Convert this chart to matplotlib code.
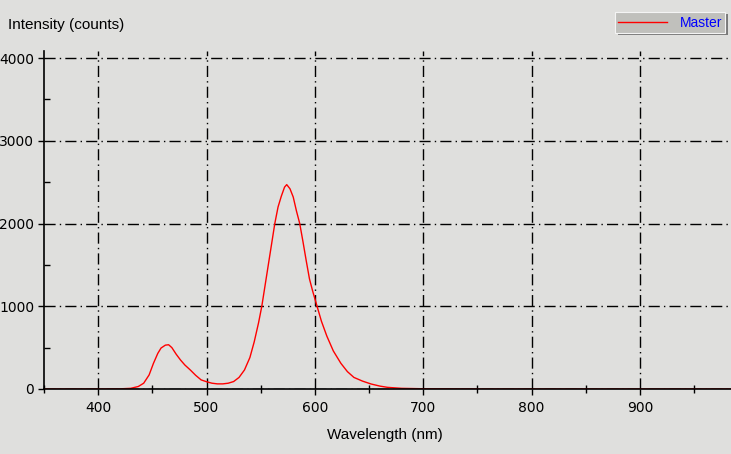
import matplotlib.pyplot as plt
from matplotlib.patches import Rectangle
from matplotlib.lines import Line2D
from matplotlib.ticker import MultipleLocator

plt.rcParams['font.family'] = ['Liberation Sans', 'DejaVu Sans']

# spectrum (nm, counts)
wavelength = [350, 400, 420, 430, 437, 442, 447, 451, 455, 458, 462, 465, 468, 472,
              476, 480, 485, 490, 495, 500, 505, 510, 515, 520, 525, 530, 535, 540,
              544, 548, 551, 554, 557, 560, 563, 566, 569, 572, 574, 577, 580, 583,
              586, 589, 592, 595, 598, 602, 606, 611, 617, 624, 630, 636, 644, 652,
              660, 667, 680, 700, 750, 985]
intensity = [0, 0, 2, 8, 30, 70, 170, 310, 430, 495, 530, 535, 500, 420,
             350, 290, 230, 165, 110, 88, 70, 62, 62, 70, 90, 140, 230, 380,
             570, 800, 1000, 1250, 1500, 1750, 2000, 2200, 2330, 2440, 2470, 2420, 2320, 2150,
             2000, 1780, 1550, 1330, 1180, 1000, 820, 640, 460, 310, 210, 140, 95, 60,
             35, 20, 8, 3, 0, 0]
series_name = 'Master'
x_ticks = [400, 500, 600, 700, 800, 900]
y_ticks = [0, 1000, 2000, 3000, 4000]

bg = '#dfdfdd'
fig = plt.figure(figsize=(7.31, 4.54), dpi=100, facecolor=bg)
ax = fig.add_axes([44 / 731, 1 - 389 / 454, 1 - 44 / 731, (389 - 51) / 454])
ax.set_facecolor(bg)

ax.plot(wavelength, intensity, color='red', linewidth=1)

ax.set_xlim(350, 984)
ax.set_ylim(0, 4085)
ax.set_xticks(x_ticks)
ax.set_yticks(y_ticks)
ax.xaxis.set_minor_locator(MultipleLocator(50))
ax.yaxis.set_minor_locator(MultipleLocator(500))

for s in ['top', 'right']:
    ax.spines[s].set_visible(False)
for s in ['left', 'bottom']:
    ax.spines[s].set_linewidth(1.2)
    ax.spines[s].set_color('black')

ax.tick_params(axis='both', which='major', direction='out', length=4, width=1,
               labelsize=10, pad=3, colors='black')
ax.tick_params(axis='x', which='major', pad=5)
ax.tick_params(axis='x', which='minor', direction='inout', length=6, width=1)
ax.tick_params(axis='y', which='minor', direction='in', length=4, width=1)
for lbl in ax.get_xticklabels() + ax.get_yticklabels():
    lbl.set_family('DejaVu Sans')

ax.grid(True, which='major', color='black', linestyle=(0, (8, 3, 1, 3)), linewidth=1)
ax.set_axisbelow(True)

fig.text(8 / 731, 1 - 25 / 454, 'Intensity (counts)', fontsize=11, va='center', ha='left')
fig.text(385 / 731, 1 - 435 / 454, 'Wavelength (nm)', fontsize=11, va='center', ha='center')

# legend box
W, H = 731, 454
fig.add_artist(Rectangle((618 / W, 1 - 35 / H), 110 / W, 21 / H, transform=fig.transFigure,
                         facecolor='#7a7a7a', edgecolor='none'))
fig.add_artist(Rectangle((615 / W, 1 - 33 / H), 110 / W, 21 / H, transform=fig.transFigure,
                         facecolor='#c0c0bc', edgecolor='#f4f4f4', linewidth=0.8))
fig.add_artist(Line2D([618 / W, 667 / W], [1 - 22 / H, 1 - 22 / H], transform=fig.transFigure,
                      color='red', linewidth=1))
fig.text(722 / W, 1 - 23 / H, series_name, color='#0000ff', fontsize=10, ha='right', va='center')

fig.savefig('out.png', dpi=100, facecolor=bg)
